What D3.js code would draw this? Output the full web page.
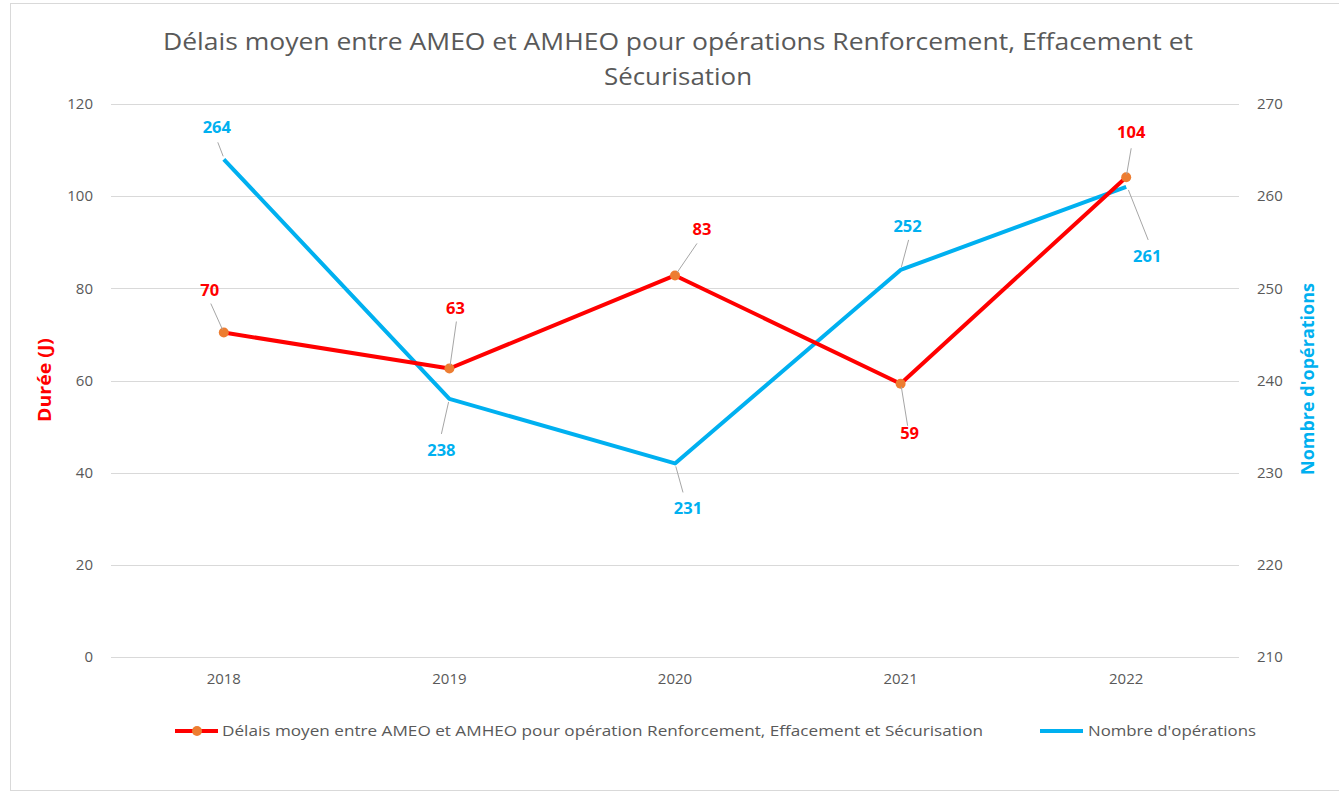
<!DOCTYPE html>
<html><head><meta charset="utf-8">
<script src="https://cdn.jsdelivr.net/npm/d3@7"></script>
<style>body{margin:0;background:#fff;}svg{display:block;font-family:"Open Sans",sans-serif;}</style>
</head><body><svg id="c" width="1339" height="797"></svg>
<script>
const years = ["2018","2019","2020","2021","2022"];
const delais = [70.4, 62.6, 82.8, 59.3, 104.1];
const operations = [264, 238, 231, 252, 261];
const leftTicks = [0,20,40,60,80,100,120];
const rightTicks = [210,220,230,240,250,260,270];
const titleLines = ["Délais moyen entre AMEO et AMHEO pour opérations Renforcement, Effacement et","Sécurisation"];
const legendLabels = ["Délais moyen entre AMEO et AMHEO pour opération Renforcement, Effacement et Sécurisation","Nombre d'opérations"];

const svg = d3.select("#c");
const m={l:111,r:1239,t:104,b:657};
const RED="#ff0000", BLUE="#00b0f0", ORANGE="#ed7d31", GRAY="#595959";

svg.append("rect").attr("x",10.5).attr("y",3.5).attr("width",1340).attr("height",787).attr("fill","#fff").attr("stroke","#d9d9d9");

const x = d3.scaleBand().domain(years).range([m.l,m.r]);
const yL = d3.scaleLinear().domain([0,120]).range([m.b,m.t]);
const yR = d3.scaleLinear().domain([210,270]).range([m.b,m.t]);
const cx = d => x(d)+x.bandwidth()/2;

// title
svg.append("g").selectAll("text").data(titleLines).join("text")
  .attr("x",678).attr("y",(d,i)=>50+i*35).attr("text-anchor","middle")
  .attr("font-size",24).attr("fill",GRAY).attr("textLength",(d,i)=>i===0?1030:148).attr("lengthAdjust","spacingAndGlyphs").text(d=>d);

// grid
svg.append("g").selectAll("line").data(leftTicks).join("line")
  .attr("x1",m.l).attr("x2",m.r).attr("y1",d=>Math.round(yL(d))+0.5).attr("y2",d=>Math.round(yL(d))+0.5)
  .attr("stroke","#d9d9d9").attr("stroke-width",1);

// axes
const gL = svg.append("g").attr("transform",`translate(${m.l},0)`)
  .call(d3.axisLeft(yL).tickValues(leftTicks).tickSize(0).tickPadding(18));
gL.select(".domain").remove();
gL.selectAll("text").attr("font-size",15).attr("fill",GRAY).attr("font-family","Open Sans");

const gR = svg.append("g").attr("transform",`translate(${m.r},0)`)
  .call(d3.axisRight(yR).tickValues(rightTicks).tickSize(0).tickPadding(18));
gR.select(".domain").remove();
gR.selectAll("text").attr("font-size",15).attr("fill",GRAY).attr("font-family","Open Sans");

const gX = svg.append("g").attr("transform",`translate(0,${m.b})`)
  .call(d3.axisBottom(x).tickSize(0).tickPadding(16));
gX.select(".domain").remove();
gX.selectAll("text").attr("font-size",15).attr("fill",GRAY).attr("font-family","Open Sans");

// axis titles
svg.append("text").attr("transform","translate(51,380) rotate(-90)").attr("text-anchor","middle")
  .attr("font-size",17).attr("font-weight","bold").attr("fill",RED)
  .attr("textLength",84).attr("lengthAdjust","spacingAndGlyphs").text("Durée (J)");
svg.append("text").attr("transform","translate(1314,379) rotate(-90)").attr("text-anchor","middle")
  .attr("font-size",17).attr("font-weight","bold").attr("fill",BLUE)
  .attr("textLength",192).attr("lengthAdjust","spacingAndGlyphs").text("Nombre d'opérations");

// lines
const lineL = d3.line().x((d,i)=>cx(years[i])).y(d=>yL(d));
const lineR = d3.line().x((d,i)=>cx(years[i])).y(d=>yR(d));
svg.append("path").attr("d",lineR(operations)).attr("fill","none").attr("stroke",BLUE).attr("stroke-width",4).attr("stroke-linejoin","round");
svg.append("path").attr("d",lineL(delais)).attr("fill","none").attr("stroke",RED).attr("stroke-width",4).attr("stroke-linejoin","round");
svg.append("g").selectAll("circle").data(delais).join("circle")
  .attr("cx",(d,i)=>cx(years[i])).attr("cy",d=>yL(d)).attr("r",5).attr("fill",ORANGE);

// data labels with leader lines: [label dx, label dy (baseline), leader start dx, dy]
const redOff = [[-14,-37,-13,-29],[6,-55,7,-47],[27,-40,22,-32],[9,55,7,42],[5,-39,5,-29]];
const blueOff = [[-7,-26,-6,-17],[-8,57,-8,35],[13,51,8,29],[7,-38,8,-30],[21,75,22,53]];
function labels(vals, scale, off, color){
  const g = svg.append("g");
  vals.forEach((v,i)=>{
    const px=cx(years[i]), py=scale(v), o=off[i];
    const sgn = o[3]<0?-1:1;
    g.append("line").attr("x1",px+o[2]).attr("y1",py+o[3]).attr("x2",px+o[2]*0.1).attr("y2",py+sgn*3)
      .attr("stroke","#a6a6a6").attr("stroke-width",1);
    g.append("text").attr("x",px+o[0]).attr("y",py+o[1]).attr("text-anchor","middle")
      .attr("font-size",16.5).attr("font-weight","bold").attr("fill",color).text(d3.format(".0f")(v));
  });
}
labels(delais,yL,redOff,RED);
labels(operations,yR,blueOff,BLUE);

// legend
const lg = svg.append("g");
lg.append("line").attr("x1",175).attr("x2",218).attr("y1",731).attr("y2",731).attr("stroke",RED).attr("stroke-width",4);
lg.append("circle").attr("cx",197).attr("cy",731).attr("r",5).attr("fill",ORANGE);
lg.append("text").attr("x",222).attr("y",736).attr("font-size",15).attr("fill",GRAY).attr("textLength",761).attr("lengthAdjust","spacingAndGlyphs").text(legendLabels[0]);
lg.append("line").attr("x1",1040).attr("x2",1083).attr("y1",731).attr("y2",731).attr("stroke",BLUE).attr("stroke-width",4);
lg.append("text").attr("x",1088).attr("y",736).attr("font-size",15).attr("fill",GRAY).attr("textLength",168).attr("lengthAdjust","spacingAndGlyphs").text(legendLabels[1]);
</script></body></html>
